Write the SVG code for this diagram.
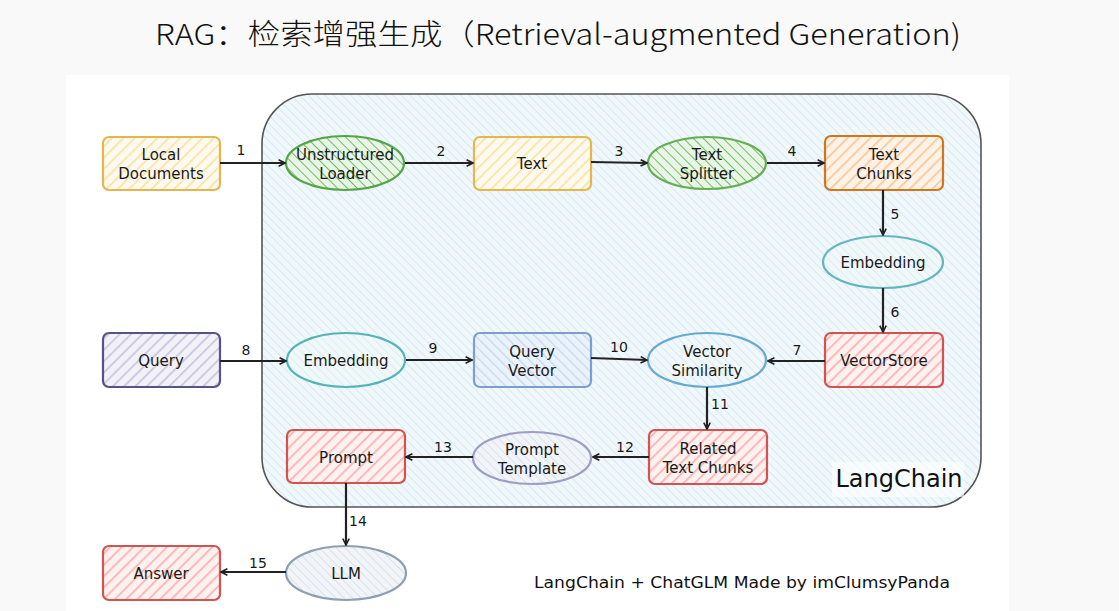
<svg xmlns="http://www.w3.org/2000/svg" width="1119" height="611" viewBox="0 0 1119 611">
<defs>
<pattern id="hBlue" patternUnits="userSpaceOnUse" width="6" height="6" patternTransform="rotate(-45)"><rect width="6" height="6" fill="#f1f8fb"/><line x1="0" y1="0" x2="0" y2="6" stroke="#c6e0ec" stroke-width="1.2"/></pattern>
<pattern id="hYellow" patternUnits="userSpaceOnUse" width="8" height="8" patternTransform="rotate(45)"><rect width="8" height="8" fill="#fffaf0"/><line x1="0" y1="0" x2="0" y2="8" stroke="#fbe3a6" stroke-width="3.5"/></pattern>
<pattern id="hGreen" patternUnits="userSpaceOnUse" width="7" height="7" patternTransform="rotate(-45)"><rect width="7" height="7" fill="#e9f5e6"/><line x1="0" y1="0" x2="0" y2="7" stroke="#72bf63" stroke-width="2"/></pattern>
<pattern id="hOrange" patternUnits="userSpaceOnUse" width="8" height="8" patternTransform="rotate(45)"><rect width="8" height="8" fill="#fff3e8"/><line x1="0" y1="0" x2="0" y2="8" stroke="#fcc79a" stroke-width="3.5"/></pattern>
<pattern id="hRed" patternUnits="userSpaceOnUse" width="8" height="8" patternTransform="rotate(45)"><rect width="8" height="8" fill="#fff1f0"/><line x1="0" y1="0" x2="0" y2="8" stroke="#f7b4b2" stroke-width="3.5"/></pattern>
<pattern id="hPurple" patternUnits="userSpaceOnUse" width="8" height="8" patternTransform="rotate(45)"><rect width="8" height="8" fill="#f2f1f8"/><line x1="0" y1="0" x2="0" y2="8" stroke="#cac6e0" stroke-width="3.5"/></pattern>
<pattern id="hQBlue" patternUnits="userSpaceOnUse" width="7" height="7" patternTransform="rotate(-45)"><rect width="7" height="7" fill="#eaf2fb"/><line x1="0" y1="0" x2="0" y2="7" stroke="#c3d7ef" stroke-width="2.5"/></pattern>
<pattern id="hTeal" patternUnits="userSpaceOnUse" width="6" height="6" patternTransform="rotate(-45)"><rect width="6" height="6" fill="#f0f8fa"/><line x1="0" y1="0" x2="0" y2="6" stroke="#cfe8ee" stroke-width="1.2"/></pattern>
<pattern id="hGray" patternUnits="userSpaceOnUse" width="6" height="6" patternTransform="rotate(-45)"><rect width="6" height="6" fill="#f1f4f8"/><line x1="0" y1="0" x2="0" y2="6" stroke="#cdd6e2" stroke-width="1.2"/></pattern>
<marker id="arr" viewBox="0 0 10 10" refX="9" refY="5" markerWidth="8" markerHeight="8" markerUnits="userSpaceOnUse" orient="auto">
<path d="M1,1 L9,5 L1,9" fill="none" stroke="#222" stroke-width="2"/>
</marker>
<style>
.lbl{font-family:"DejaVu Sans","Noto Sans",sans-serif;font-size:15px;fill:#1a1a1a;text-anchor:middle}
.num{font-family:"DejaVu Sans","Noto Sans",sans-serif;font-size:14px;fill:#1a1a1a;text-anchor:middle}
.con{fill:none;stroke:#222;stroke-width:2.2;marker-end:url(#arr)}
.box{stroke-width:2.2}
</style>
</defs>
<rect width="1119" height="611" fill="#f9f9f9"/>
<rect x="66" y="75" width="943" height="536" fill="#ffffff"/>
<text x="558" y="45" font-family="'Noto Sans CJK SC',sans-serif" font-size="29" font-weight="300" fill="#111" text-anchor="middle" textLength="806" lengthAdjust="spacingAndGlyphs">RAG：检索增强生成（Retrieval-augmented Generation)</text>

<g id="langchain">
<rect x="262" y="94" width="719" height="413" rx="50" fill="url(#hBlue)" stroke="#555" stroke-width="1.6"/>
<rect x="832" y="462" width="132" height="35" fill="#ffffff" opacity="0.6"/>
<text x="899" y="487" font-family="'DejaVu Sans',sans-serif" font-size="24" fill="#111" text-anchor="middle">LangChain</text>
</g>

<g id="local-documents"><rect class="box" x="103" y="137" width="117" height="53" rx="6" fill="url(#hYellow)" stroke="#e6b54e"/><text class="lbl" x="161" y="160">Local</text><text class="lbl" x="161" y="179">Documents</text></g>
<g id="unstructured-loader"><ellipse class="box" cx="345" cy="163" rx="59" ry="27" fill="url(#hGreen)" stroke="#52a548"/><text class="lbl" x="345" y="160">Unstructured</text><text class="lbl" x="345" y="179">Loader</text></g>
<g id="text"><rect class="box" x="474" y="137" width="117" height="53" rx="6" fill="url(#hYellow)" stroke="#e6b54e"/><text class="lbl" x="532" y="169">Text</text></g>
<g id="text-splitter"><ellipse class="box" cx="707" cy="163" rx="59" ry="26" fill="url(#hGreen)" stroke="#66ad55"/><text class="lbl" x="707" y="160">Text</text><text class="lbl" x="707" y="179">Splitter</text></g>
<g id="text-chunks"><rect class="box" x="825" y="136" width="118" height="54" rx="6" fill="url(#hOrange)" stroke="#d0761f"/><text class="lbl" x="884" y="160">Text</text><text class="lbl" x="884" y="179">Chunks</text></g>
<g id="embedding-1"><ellipse class="box" cx="883" cy="262" rx="60" ry="26" fill="url(#hTeal)" stroke="#62b6c0"/><text class="lbl" x="883" y="268">Embedding</text></g>
<g id="vectorstore"><rect class="box" x="825" y="333" width="118" height="54" rx="6" fill="url(#hRed)" stroke="#d25450"/><text class="lbl" x="884" y="366">VectorStore</text></g>
<g id="query"><rect class="box" x="103" y="333" width="117" height="54" rx="6" fill="url(#hPurple)" stroke="#575287"/><text class="lbl" x="161" y="366">Query</text></g>
<g id="embedding-2"><ellipse class="box" cx="346" cy="360" rx="59" ry="27" fill="url(#hTeal)" stroke="#54b4b6"/><text class="lbl" x="346" y="366">Embedding</text></g>
<g id="query-vector"><rect class="box" x="474" y="333" width="117" height="54" rx="6" fill="url(#hQBlue)" stroke="#7c9fd0"/><text class="lbl" x="532" y="357">Query</text><text class="lbl" x="532" y="376">Vector</text></g>
<g id="vector-similarity"><ellipse class="box" cx="707" cy="360" rx="59" ry="27" fill="url(#hBlue)" stroke="#66aad2"/><text class="lbl" x="707" y="357">Vector</text><text class="lbl" x="707" y="376">Similarity</text></g>
<g id="related-text-chunks"><rect class="box" x="649" y="430" width="118" height="54" rx="6" fill="url(#hRed)" stroke="#d25450"/><text class="lbl" x="708" y="454">Related</text><text class="lbl" x="708" y="473">Text Chunks</text></g>
<g id="prompt-template"><ellipse class="box" cx="532" cy="458" rx="59" ry="26" fill="url(#hGray)" stroke="#9c9fc3"/><text class="lbl" x="532" y="455">Prompt</text><text class="lbl" x="532" y="474">Template</text></g>
<g id="prompt"><rect class="box" x="287" y="430" width="118" height="53" rx="6" fill="url(#hRed)" stroke="#d25450"/><text class="lbl" x="346" y="463">Prompt</text></g>
<g id="llm"><ellipse class="box" cx="346" cy="573" rx="60" ry="27" fill="url(#hGray)" stroke="#8e9fb0"/><text class="lbl" x="346" y="579">LLM</text></g>
<g id="answer"><rect class="box" x="103" y="546" width="117" height="54" rx="6" fill="url(#hRed)" stroke="#d25450"/><text class="lbl" x="161" y="579">Answer</text></g>

<g id="connectors">
<path class="con" d="M220,163 L285,163"/><text class="num" x="241" y="155">1</text>
<path class="con" d="M405,163 L473,163"/><text class="num" x="441" y="156">2</text>
<path class="con" d="M591,162 L647,163"/><text class="num" x="619" y="156">3</text>
<path class="con" d="M767,163 L824,163"/><text class="num" x="792" y="156">4</text>
<path class="con" d="M883,190 L883,235"/><text class="num" x="895" y="219">5</text>
<path class="con" d="M883,288 L883,332"/><text class="num" x="895" y="317">6</text>
<path class="con" d="M825,361 L768,361"/><text class="num" x="797" y="355">7</text>
<path class="con" d="M220,361 L286,361"/><text class="num" x="246" y="355">8</text>
<path class="con" d="M406,360 L472,360"/><text class="num" x="433" y="353">9</text>
<path class="con" d="M591,358 L647,360"/><text class="num" x="619" y="352">10</text>
<path class="con" d="M707,387 L707,429"/><text class="num" x="720" y="409">11</text>
<path class="con" d="M649,457 L593,457"/><text class="num" x="625" y="452">12</text>
<path class="con" d="M473,457 L406,457"/><text class="num" x="443" y="452">13</text>
<path class="con" d="M346,483 L346,545"/><text class="num" x="358" y="526">14</text>
<path class="con" d="M286,572 L221,572"/><text class="num" x="258" y="568">15</text>
</g>

<text x="742" y="588" font-family="'DejaVu Sans',sans-serif" font-size="15.5" fill="#111" text-anchor="middle" textLength="416" lengthAdjust="spacingAndGlyphs">LangChain + ChatGLM Made by imClumsyPanda</text>
</svg>
